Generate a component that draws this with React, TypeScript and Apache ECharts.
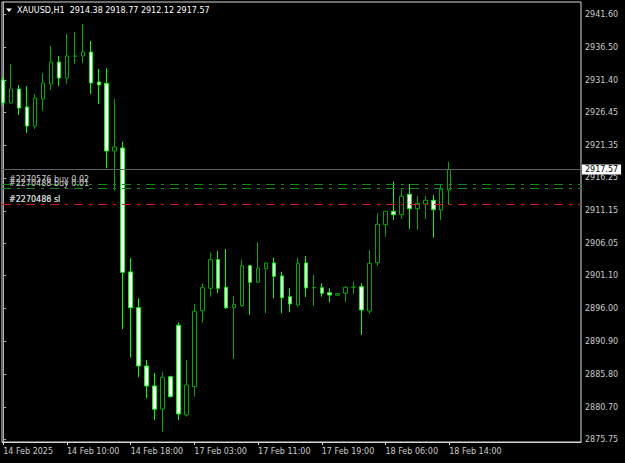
import React, { useEffect, useRef } from "react";
import * as echarts from "echarts";

// Bar times shown on the time axis (bar index -> label)
const timeLabels = [
  "14 Feb 2025",
  "14 Feb 10:00",
  "14 Feb 18:00",
  "17 Feb 03:00",
  "17 Feb 11:00",
  "17 Feb 19:00",
  "18 Feb 06:00",
  "18 Feb 14:00",
];
const timeLabelIndex = [0, 8, 16, 24, 32, 40, 48, 56];

// XAUUSD H1 OHLC
const opens = [
  2931.42, 2927.86, 2930.03, 2927.24, 2924.29, 2928.48, 2930.8, 2934.21, 2931.73, 2935.1,
  2935.14, 2935.76, 2931.12, 2930.91, 2920.42, 2920.89, 2901.68, 2896.14, 2887.11, 2884.01,
  2880.45, 2885.45, 2893.42, 2879.52, 2883.91, 2895.68, 2899.15, 2903.58, 2899.31, 2896.14,
  2896.46, 2902.65, 2900.08, 2902.19, 2903.07, 2901.06, 2897.85, 2896.56, 2903.07, 2899.22,
  2899.24, 2898.47, 2898.07, 2898.38, 2899.31, 2899.4, 2895.63, 2903.12, 2909.01, 2911.08,
  2910.55, 2913.72, 2911.48, 2912.21, 2912.79, 2911.28, 2914.38,
];
const closes = [
  2927.86, 2930.03, 2927.08, 2924.29, 2928.63, 2930.96, 2934.21, 2931.73, 2935.14, 2935.14,
  2935.76, 2930.96, 2930.65, 2920.42, 2921.04, 2901.63, 2896.14, 2887.11, 2884.01, 2880.4,
  2885.36, 2882.36, 2879.68, 2884.17, 2895.59, 2899.24, 2903.58, 2899.15, 2896.14, 2896.67,
  2902.65, 2900.08, 2902.25, 2903.07, 2901.01, 2897.69, 2896.72, 2903.02, 2899.2, 2899.27,
  2898.38, 2898.11, 2898.31, 2899.31, 2899.35, 2895.79, 2903.02, 2909.07, 2911.08, 2910.55,
  2913.41, 2911.48, 2912.32, 2912.79, 2911.33, 2914.49, 2917.57,
];
const lows = [
  2927.39, 2927.7, 2926.0, 2923.21, 2923.83, 2926.62, 2929.87, 2930.49, 2930.8, 2933.9,
  2934.06, 2929.25, 2927.7, 2917.74, 2914.27, 2892.84, 2888.4, 2885.36, 2882.11, 2878.75,
  2876.93, 2882.23, 2878.75, 2879.26, 2882.36, 2893.82, 2897.85, 2898.38, 2895.94, 2888.2,
  2896.3, 2895.01, 2899.97, 2895.28, 2897.6, 2895.28, 2895.43, 2896.3, 2897.8, 2896.41,
  2897.85, 2896.98, 2897.96, 2896.98, 2898.27, 2891.92, 2895.17, 2902.61, 2907.15, 2909.73,
  2909.89, 2908.34, 2908.18, 2909.89, 2906.99, 2909.73, 2912.12,
];
const highs = [
  2931.89, 2933.9, 2930.65, 2930.49, 2929.25, 2932.51, 2936.69, 2935.14, 2938.55, 2938.86,
  2940.1, 2937.47, 2933.13, 2933.24, 2928.48, 2921.86, 2903.84, 2897.6, 2888.04, 2886.03,
  2886.23, 2885.61, 2893.88, 2888.04, 2896.72, 2899.93, 2904.67, 2904.93, 2905.24, 2897.96,
  2903.58, 2902.76, 2906.33, 2903.15, 2903.89, 2901.72, 2899.15, 2903.89, 2904.16, 2901.21,
  2899.93, 2899.15, 2898.42, 2899.51, 2900.17, 2899.93, 2905.09, 2910.77, 2911.13, 2915.67,
  2914.49, 2915.27, 2913.45, 2913.45, 2913.61, 2915.16, 2918.77,
];

// Price scale labels
const priceTicks = [
  2941.6, 2936.5, 2931.4, 2926.45, 2921.35, 2916.25, 2911.15, 2906.05, 2901.1, 2896.0,
  2890.9, 2885.8, 2880.7, 2875.75,
];

const titleText = "XAUUSD,H1\u00a0\u00a02914.38 2918.77 2912.12 2917.57";
const bidPrice = 2917.57;
const orderPrices = [2915.25, 2914.65];
const orderLabels = ["#2270576 buy 0.02", "#2270488 buy 0.01"];
const slPrice = 2912.15;
const slLabels = ["#2270486 sl", "#2270488 sl"];

const FONT = "DejaVu Sans";
const TXT = "#cccccc";

export default function App() {
  const ref = useRef<HTMLDivElement>(null);

  useEffect(() => {
    if (!ref.current) return;
    const chart = echarts.init(ref.current, null, { renderer: "svg" });
    const candleData = opens.map((o, i) => [i, o, closes[i], lows[i], highs[i]]);

    const orderLineStyle = { color: "#138a13", width: 1, type: [9, 6, 3, 6] };
    const slLineStyle = { color: "#e01010", width: 1, type: [9, 6, 3, 6] };
    const orderLabel = (text: string) => ({
      show: true,
      position: "insideStartTop",
      formatter: text,
      color: TXT,
      fontSize: 8,
      fontFamily: FONT,
      distance: [7, 0.5],
    });

    chart.setOption({
      animation: false,
      backgroundColor: "#000",
      textStyle: { fontFamily: FONT },
      title: {
        text: titleText,
        left: 17,
        top: 6,
        padding: 0,
        textStyle: { color: "#ffffff", fontSize: 8, fontWeight: "normal", fontFamily: FONT },
      },
      graphic: [
        {
          type: "polygon",
          shape: { points: [[6, 8.5], [12, 8.5], [9, 12]] },
          style: { fill: "#ffffff" },
        },
      ],
      grid: {
        left: 2,
        right: 44,
        top: 2,
        bottom: 21,
        show: true,
        borderColor: "#d8d8d8",
        borderWidth: 1,
        backgroundColor: "#000",
      },
      xAxis: {
        type: "value",
        min: -0.151,
        max: 72.55,
        axisLine: { show: true, onZero: false, lineStyle: { color: "#d8d8d8" } },
        axisTick: {
          show: true,
          length: 3,
          customValues: timeLabelIndex,
          lineStyle: { color: "#d8d8d8" },
        },
        axisLabel: {
          customValues: timeLabelIndex,
          formatter: (v: number) => {
            const k = timeLabelIndex.indexOf(Math.round(v));
            return k >= 0 ? timeLabels[k] : "";
          },
          align: "left",
          color: TXT,
          fontSize: 8,
          fontFamily: FONT,
          margin: 5,
        },
        splitLine: { show: false },
      },
      yAxis: {
        type: "value",
        position: "right",
        min: 2875.33,
        max: 2943.51,
        axisLine: { show: true, lineStyle: { color: "#b0b0b0" } },
        axisTick: {
          show: true,
          inside: false,
          length: 3,
          customValues: priceTicks,
          lineStyle: { color: "#b0b0b0" },
        },
        axisLabel: {
          customValues: priceTicks,
          formatter: (v: number) => v.toFixed(2),
          color: TXT,
          fontSize: 8,
          fontFamily: FONT,
          margin: 4,
        },
        splitLine: { show: false },
      },
      series: [
        {
          type: "candlestick",
          data: candleData,
          barWidth: 4,
          itemStyle: {
            color: "#000000",
            borderColor: "#00a800",
            color0: "#ffffff",
            borderColor0: "#00ff00",
            borderWidth: 1,
          },
          markLine: {
            silent: true,
            symbol: ["none", "none"],
            animation: false,
            data: [
              {
                yAxis: orderPrices[0],
                lineStyle: orderLineStyle,
                label: orderLabel(orderLabels[0]),
              },
              {
                yAxis: orderPrices[1],
                lineStyle: orderLineStyle,
                label: orderLabel(orderLabels[1]),
              },
              {
                yAxis: slPrice,
                lineStyle: slLineStyle,
                label: orderLabel(slLabels[0]),
              },
              {
                yAxis: slPrice,
                lineStyle: slLineStyle,
                label: orderLabel(slLabels[1]),
              },
              {
                yAxis: bidPrice,
                lineStyle: { color: "#596068", width: 1, type: "solid" },
                label: {
                  show: true,
                  position: "end",
                  formatter: bidPrice.toFixed(2),
                  color: "#000",
                  backgroundColor: "#ffffff",
                  padding: [1, 3, 1, 3],
                  fontSize: 8,
                  fontFamily: FONT,
                  distance: 1,
                },
              },
            ],
          },
        },
      ],
    });
    return () => chart.dispose();
  }, []);

  return (
    <div
      ref={ref}
      style={{ position: "fixed", left: 0, top: 0, width: 625, height: 463, background: "#000" }}
    />
  );
}
